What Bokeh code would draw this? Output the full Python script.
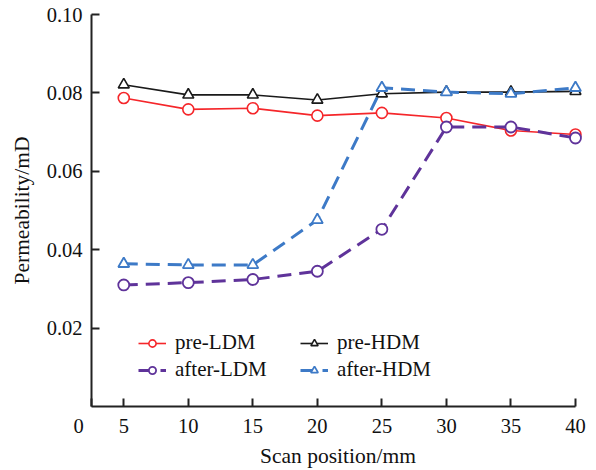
from bokeh.plotting import figure
from bokeh.models import Range1d, FixedTicker, Legend, LegendItem, CustomJSTickFormatter
from bokeh.embed import file_html
from bokeh.resources import INLINE

positions = [5, 10, 15, 20, 25, 30, 35, 40]
pre_ldm = [0.0787, 0.0758, 0.0761, 0.0742, 0.0749, 0.0736, 0.0704, 0.0694]
pre_hdm = [0.0821, 0.0795, 0.0795, 0.0782, 0.0798, 0.0802, 0.0802, 0.0804]
after_ldm = [0.0310, 0.0316, 0.0324, 0.0345, 0.0452, 0.0713, 0.0713, 0.0685]
after_hdm = [0.0364, 0.0361, 0.0361, 0.0476, 0.0813, 0.0802, 0.0798, 0.0813]
y_ticks = [0.02, 0.04, 0.06, 0.08, 0.10]
x_ticks = [2.5, 5, 10, 15, 20, 25, 30, 35, 40]
x_origin_label = "0"

FONT = "Liberation Serif"
NBSP = "\u00a0"

p = figure(width=596, height=470, output_backend="svg", toolbar_location=None,
           x_range=Range1d(2.5, 40.7), y_range=Range1d(0, 0.10),
           min_border_left=91, min_border_right=12, min_border_top=14, min_border_bottom=64)
p.outline_line_color = None
p.xgrid.visible = False
p.ygrid.visible = False
p.background_fill_color = "white"

for ax in (p.xaxis[0], p.yaxis[0]):
    ax.axis_line_color = "#222222"
    ax.axis_line_width = 2
    ax.major_tick_line_color = "#222222"
    ax.major_tick_line_width = 2
    ax.major_tick_in = 8
    ax.major_tick_out = 0
    ax.minor_tick_line_color = None
    ax.major_label_text_font = FONT
    ax.major_label_text_font_size = "20.5px"
    ax.major_label_text_color = "#111111"
    ax.axis_label_text_font = FONT
    ax.axis_label_text_font_size = "21.5px"
    ax.axis_label_text_font_style = "normal"
    ax.axis_label_text_color = "#111111"

p.xaxis.bounds = (2.5, 40)
p.xaxis.ticker = FixedTicker(ticks=x_ticks)
p.xaxis.major_label_overrides = {2.5: x_origin_label + NBSP * 5}
p.yaxis.ticker = FixedTicker(ticks=y_ticks)
p.yaxis.formatter = CustomJSTickFormatter(code="return tick.toFixed(2);")
p.xaxis.axis_label = "Scan position/mm"
p.yaxis.axis_label = "Permeability/mD"
p.xaxis.major_label_standoff = 8
p.yaxis.major_label_standoff = 9
p.xaxis.axis_label_standoff = 4
p.yaxis.axis_label_standoff = 10

RED = "#f5262a"
BLACK = "#1a1a1a"
PURPLE = "#5f339a"
BLUE = "#3d7ac7"

l1 = p.line(positions, pre_ldm, line_color=RED, line_width=1.6)
m1 = p.scatter(positions, pre_ldm, marker="circle", size=11, fill_color="white",
               line_color=RED, line_width=1.6)
l2 = p.line(positions, pre_hdm, line_color=BLACK, line_width=1.6)
m2 = p.scatter(positions, pre_hdm, marker="triangle", size=11, fill_color="white",
               line_color=BLACK, line_width=1.6)
l3 = p.line(positions, after_ldm, line_color=PURPLE, line_width=3, line_dash="14 8")
m3 = p.scatter(positions, after_ldm, marker="circle", size=11, fill_color="white",
               line_color=PURPLE, line_width=1.8)
l4 = p.line(positions, after_hdm, line_color=BLUE, line_width=3, line_dash="14 8")
m4 = p.scatter(positions, after_hdm, marker="triangle", size=11, fill_color="white",
               line_color=BLUE, line_width=1.8)

legend = Legend(items=[
    LegendItem(label="pre-LDM", renderers=[l1, m1]),
    LegendItem(label="after-LDM", renderers=[l3, m3]),
    LegendItem(label="pre-HDM", renderers=[l2, m2]),
    LegendItem(label="after-HDM", renderers=[l4, m4]),
], ncols=2, location=(47, 23), padding=0, margin=0, spacing=0,
    glyph_width=28, glyph_height=18, label_height=27, label_width=125,
    label_standoff=9, label_text_font=FONT, label_text_font_size="21px",
    label_text_color="#111111",
    border_line_color=None, background_fill_alpha=0)
p.add_layout(legend, "center")

open("out.html", "w").write(file_html(p, INLINE))
